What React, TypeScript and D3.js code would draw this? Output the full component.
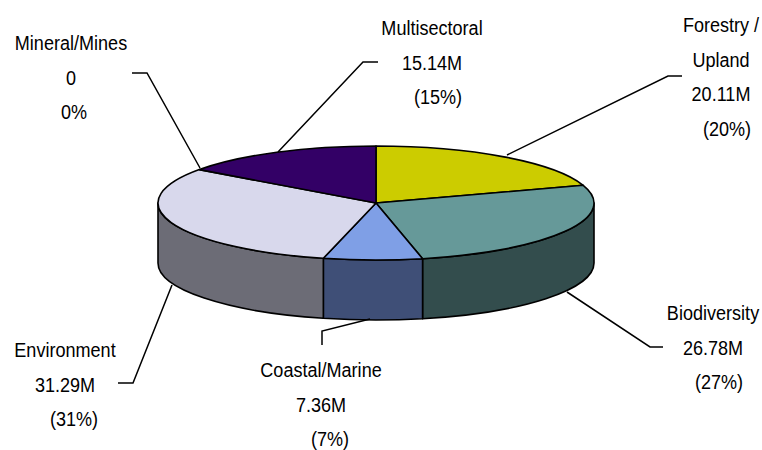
import React from 'react';
import * as d3 from 'd3';

// Sector funding (millions), clockwise from 12 o'clock
const categories = ['Forestry / Upland', 'Biodiversity', 'Coastal/Marine', 'Environment', 'Mineral/Mines', 'Multisectoral'];
const amounts = [20.11, 26.78, 7.36, 31.29, 0, 15.14];
const valueLabels = ['20.11M', '26.78M', '7.36M', '31.29M', '0', '15.14M'];
const pctLabels = ['(20%)', '(27%)', '(7%)', '(31%)', '0%', '(15%)'];
const topColors = ['#CCCC00', '#669999', '#7F9FE6', '#D8D8EC', '#9999FF', '#330066'];
const sideColors = ['#666600', '#334D4D', '#3F4F77', '#6C6C76', '#4D4D80', '#1A0033'];

const W = 762;
const H = 450;
const cx = 376;
const cy = 203;
const rx = 218;
const ry = 57;
const depth = 60;

// label layout: lines (x centre, first baseline), leader polyline
const labelLayout = [
  { x: 721, y: 32, lines: ['Forestry /', 'Upland'], pctDx: 6, leader: [[507, 155], [668, 76], [682, 76]] },
  { x: 713, y: 320, lines: ['Biodiversity'], pctDx: 6, leader: [[567, 292], [650, 347], [663, 347]] },
  { x: 321, y: 377, lines: ['Coastal/Marine'], pctDx: 9, leader: [[370, 319], [322, 331], [322, 345]] },
  { x: 65, y: 357, lines: ['Environment'], pctDx: 9, leader: [[172, 285], [133, 383], [118, 383]] },
  { x: 71, y: 50, lines: ['Mineral/Mines'], pctDx: 3, leader: [[200, 168], [147, 73], [132, 73]] },
  { x: 432, y: 35, lines: ['Multisectoral'], pctDx: 6, leader: [[278, 152], [363, 62], [378, 62]] },
];

const pt = (a: number, dy = 0): [number, number] => [cx + rx * Math.sin(a), cy - ry * Math.cos(a) + dy];

const App = () => {
  const arcs = d3.pie<number>().sort(null).value(d => d)(amounts);

  const topPath = (a0: number, a1: number) => {
    const [x0, y0] = pt(a0);
    const [x1, y1] = pt(a1);
    const large = a1 - a0 > Math.PI ? 1 : 0;
    return `M${cx},${cy}L${x0},${y0}A${rx},${ry} 0 ${large} 1 ${x1},${y1}Z`;
  };

  const sidePath = (a0: number, a1: number) => {
    const b0 = Math.max(a0, Math.PI / 2);
    const b1 = Math.min(a1, (3 * Math.PI) / 2);
    if (b1 <= b0) return null;
    const [x0, y0] = pt(b0);
    const [x1, y1] = pt(b1);
    return `M${x0},${y0}A${rx},${ry} 0 0 1 ${x1},${y1}L${x1},${y1 + depth}A${rx},${ry} 0 0 0 ${x0},${y0 + depth}Z`;
  };

  const lineGap = 34.5;
  const line = d3.line();

  return (
    <svg width={W} height={H} style={{ position: 'absolute', left: 0, top: 0, background: '#fff' }}
      fontFamily="'Liberation Sans', Arial, sans-serif">
      {/* side walls */}
      {arcs.map((a, i) => {
        const d = sidePath(a.startAngle, a.endAngle);
        return d ? <path key={'s' + i} d={d} fill={sideColors[i]} stroke="#000" strokeWidth={1.6} strokeLinejoin="round" /> : null;
      })}
      {/* top faces */}
      {arcs.map((a, i) => a.endAngle - a.startAngle > 0 ? (
        <path key={'t' + i} d={topPath(a.startAngle, a.endAngle)} fill={topColors[i]} stroke="#000" strokeWidth={1.6} strokeLinejoin="round" />
      ) : null)}
      {/* leader lines */}
      {labelLayout.map((l, i) => (
        <path key={'l' + i} d={line(l.leader as [number, number][]) || ''} fill="none" stroke="#000" strokeWidth={1.5} />
      ))}
      {/* labels */}
      {labelLayout.map((l, i) => {
        const rows = [...l.lines, valueLabels[i], pctLabels[i]];
        return rows.map((t, j) => (
          <g key={'x' + i + '-' + j} transform={`translate(${l.x + (j === rows.length - 1 ? l.pctDx : 0)},${l.y + j * lineGap}) scale(0.86,1)`}>
            <text textAnchor="middle" fontSize={21} fill="#000">{t}</text>
          </g>
        ));
      })}
    </svg>
  );
};

export default App;
